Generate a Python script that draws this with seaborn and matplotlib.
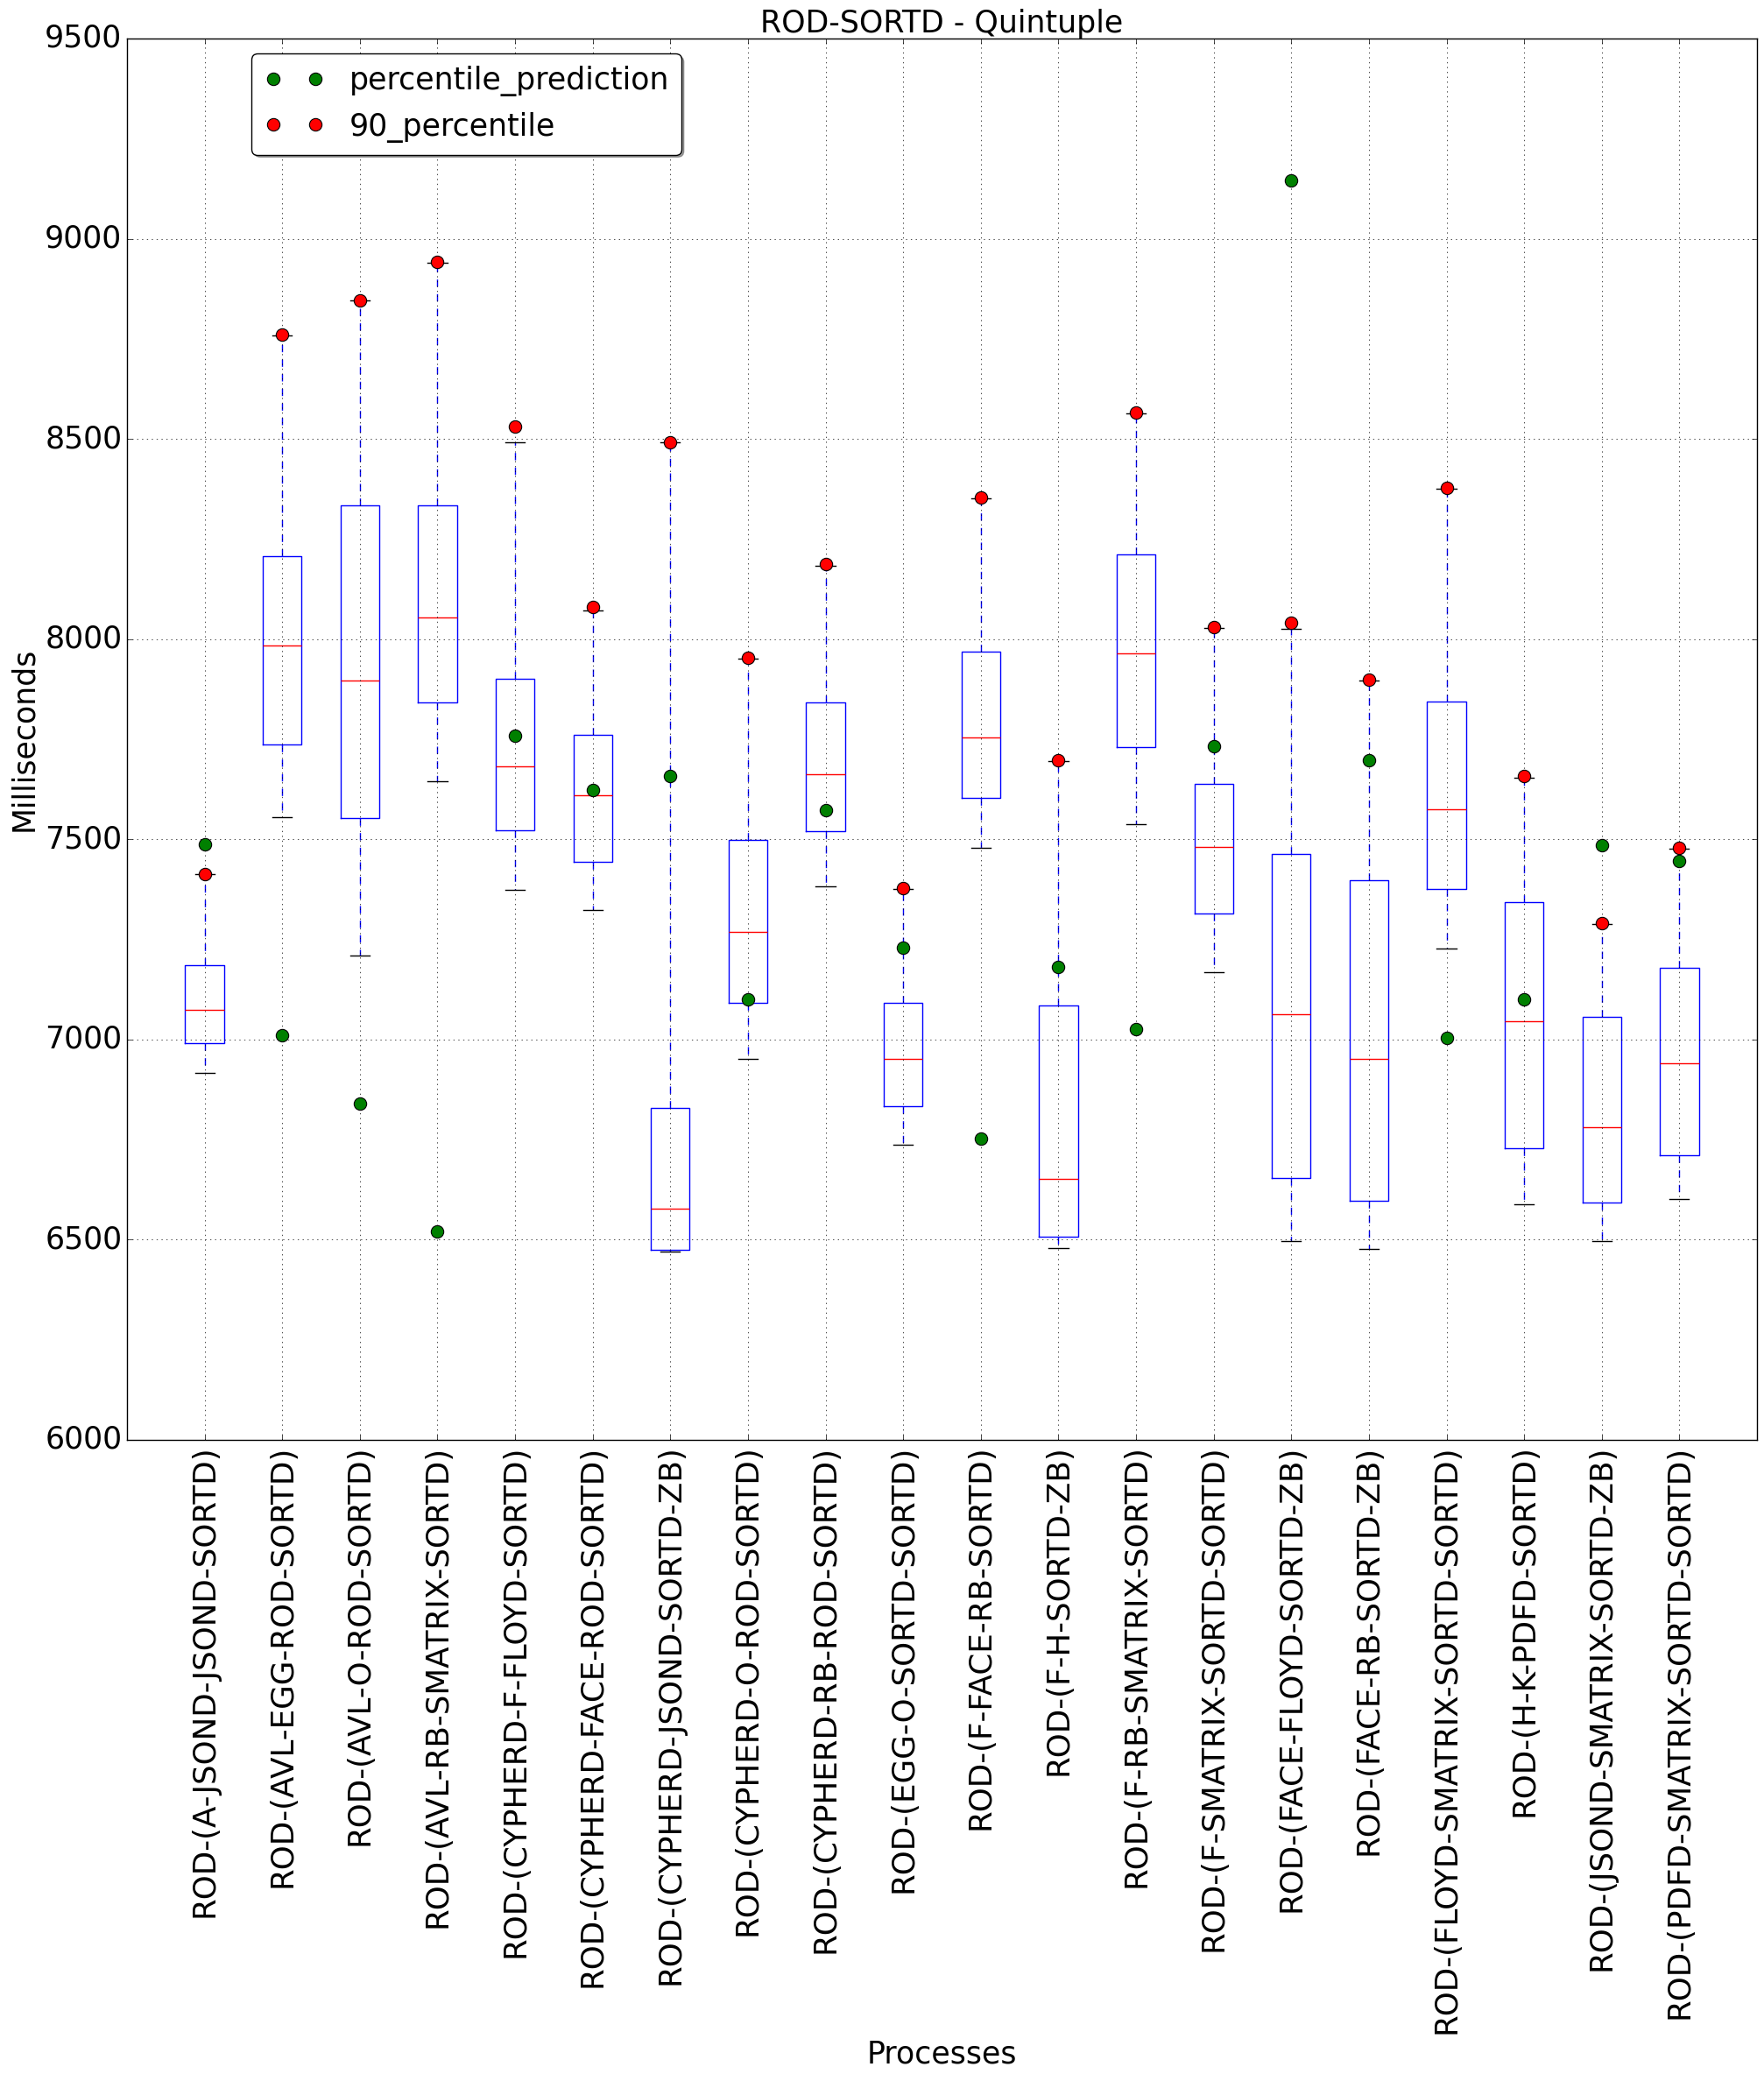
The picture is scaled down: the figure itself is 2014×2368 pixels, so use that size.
import numpy as np
import pandas as pd
import matplotlib
matplotlib.use("Agg")
import matplotlib.pyplot as plt
import seaborn as sns
from matplotlib.lines import Line2D

processes = [
    "ROD-(A-JSOND-JSOND-SORTD)", "ROD-(AVL-EGG-ROD-SORTD)", "ROD-(AVL-O-ROD-SORTD)",
    "ROD-(AVL-RB-SMATRIX-SORTD)", "ROD-(CYPHERD-F-FLOYD-SORTD)", "ROD-(CYPHERD-FACE-ROD-SORTD)",
    "ROD-(CYPHERD-JSOND-SORTD-ZB)", "ROD-(CYPHERD-O-ROD-SORTD)", "ROD-(CYPHERD-RB-ROD-SORTD)",
    "ROD-(EGG-O-SORTD-SORTD)", "ROD-(F-FACE-RB-SORTD)", "ROD-(F-H-SORTD-ZB)",
    "ROD-(F-RB-SMATRIX-SORTD)", "ROD-(F-SMATRIX-SORTD-SORTD)", "ROD-(FACE-FLOYD-SORTD-ZB)",
    "ROD-(FACE-RB-SORTD-ZB)", "ROD-(FLOYD-SMATRIX-SORTD-SORTD)", "ROD-(H-K-PDFD-SORTD)",
    "ROD-(JSOND-SMATRIX-SORTD-ZB)", "ROD-(PDFD-SMATRIX-SORTD-SORTD)",
]
whisker_low = [6917, 7556, 7209, 7646, 7373, 7324, 6471, 6951, 7382, 6737,
               7479, 6480, 7537, 7169, 6497, 6477, 7227, 6589, 6497, 6602]
q1 = [6990, 7737, 7554, 7841, 7523, 7444, 6475, 7092, 7520, 6833,
      7603, 6508, 7731, 7315, 6655, 6598, 7376, 6728, 6593, 6710]
median = [7073, 7984, 7897, 8054, 7683, 7610, 6577, 7269, 7662, 6951,
          7755, 6651, 7964, 7482, 7064, 6952, 7576, 7045, 6782, 6940]
q3 = [7185, 8208, 8333, 8333, 7900, 7762, 6830, 7498, 7842, 7092,
      7968, 7086, 8211, 7638, 7464, 7398, 7845, 7343, 7057, 7178]
whisker_high = [7413, 8759, 8845, 8941, 8491, 8071, 8491, 7951, 8183, 7377,
                8352, 7695, 8563, 8028, 8025, 7896, 8376, 7653, 7288, 7476]
percentile_prediction = [7488, 7010, 6841, 6520, 7758, 7624, 7659, 7100, 7573, 7230,
                         6753, 7181, 7026, 7733, 9145, 7697, 7005, 7100, 7486, 7445]
percentile_90 = [7414, 8760, 8846, 8942, 8531, 8081, 8491, 7954, 8187, 7379,
                 8354, 7697, 8566, 8030, 8040, 7898, 8378, 7658, 7290, 7478]
y_ticks = [6000, 6500, 7000, 7500, 8000, 8500, 9000, 9500]

plt.style.use("classic")
FS = 25.0
XFS = 25.7
plt.rcParams.update({
    "font.family": ["DejaVu Sans"],
    "font.size": FS,
    "figure.facecolor": "white",
    "savefig.facecolor": "white",
    "axes.facecolor": "white",
})

rows = []
for i, p in enumerate(processes):
    for v in (whisker_low[i], q1[i], median[i], q3[i], whisker_high[i]):
        rows.append((p, v))
df = pd.DataFrame(rows, columns=["process", "ms"])

fig = plt.figure(figsize=(20.14, 23.68), dpi=100)
ax = fig.add_axes([145 / 2014, 1 - 1644 / 2368, (2006 - 145) / 2014, (1644 - 44) / 2368])

sns.boxplot(
    data=df, x="process", y="ms", order=processes, whis=(0, 100), width=0.5,
    fill=False, color="b", linewidth=1.0, showfliers=False, ax=ax,
    boxprops=dict(color="b"), medianprops=dict(color="r"),
    whiskerprops=dict(color="b", linestyle="--"), capprops=dict(color="k"),
)

sns.stripplot(x=processes, y=percentile_prediction, order=processes, jitter=False,
              color="#008000", size=10.3, edgecolor="black", linewidth=0.8,
              zorder=3, ax=ax)
sns.stripplot(x=processes, y=percentile_90, order=processes, jitter=False,
              color="#ff0000", size=10.3, edgecolor="black", linewidth=0.8,
              zorder=4, ax=ax)

ax.set_xlim(-1, len(processes))
ax.set_ylim(6000, 9500)
ax.set_yticks(y_ticks)
ax.set_yticklabels([str(t) for t in y_ticks])
ax.tick_params(axis="x", rotation=90, labelsize=XFS)
ax.tick_params(axis="y", labelsize=FS)
ax.grid(True, linestyle=":", color="k", linewidth=0.5)
ax.set_axisbelow(False)

ax.set_title("ROD-SORTD - Quintuple", fontsize=FS)
ax.set_xlabel("Processes", fontsize=FS)
ax.set_ylabel("Milliseconds", fontsize=FS)

handles = [
    Line2D([], [], marker="o", linestyle="none", color="#008000", mec="k", ms=10.3, mew=0.8),
    Line2D([], [], marker="o", linestyle="none", color="#ff0000", mec="k", ms=10.3, mew=0.8),
]
ax.legend(handles, ["percentile_prediction", "90_percentile"], numpoints=2,
          loc="upper left", bbox_to_anchor=(0.0672, 1.0), fancybox=True,
          shadow=True, fontsize=FS)

fig.savefig("out.png", dpi=100)
